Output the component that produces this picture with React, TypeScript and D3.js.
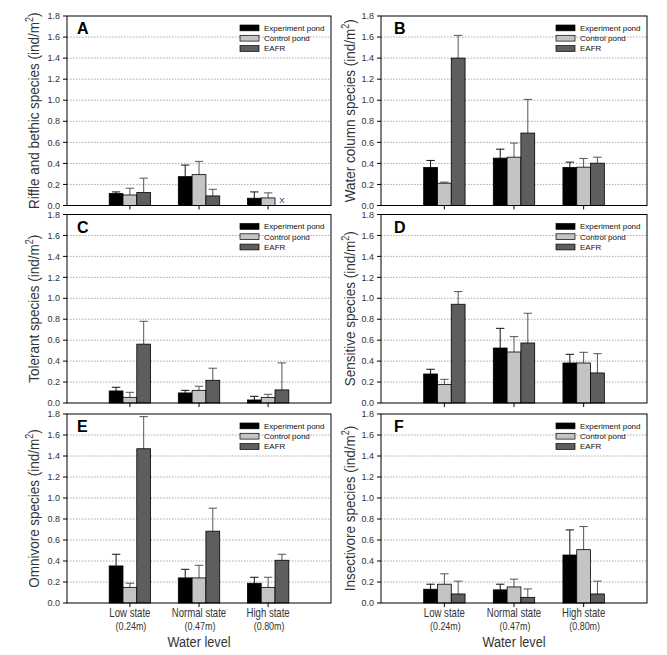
import React from "react";
import * as d3 from "d3";

const categories = ["Low state", "Normal state", "High state"];
const subLabels = ["(0.24m)", "(0.47m)", "(0.80m)"];
const seriesNames = ["Experiment pond", "Control pond", "EAFR"];
const yTicks = [0, 0.2, 0.4, 0.6, 0.8, 1.0, 1.2, 1.4, 1.6, 1.8];
const panelLetters = ["A", "B", "C", "D", "E", "F"];
const yTitles = [
  "Riffle and bethic species",
  "Water column species",
  "Tolerant species",
  "Sensitive species",
  "Omnivore species",
  "Insectivore species",
];

// means per panel: [experiment, control, EAFR] x [low, normal, high]
const meansA = [[0.113, 0.274, 0.069], [0.10, 0.293, 0.072], [0.123, 0.091, null]];
const errA = [[0.016, 0.11, 0.06], [0.064, 0.126, 0.048], [0.137, 0.063, null]];
const meansB = [[0.361, 0.45, 0.361], [0.212, 0.459, 0.364], [1.40, 0.688, 0.402]];
const errB = [[0.067, 0.085, 0.051], [0.01, 0.134, 0.083], [0.216, 0.32, 0.057]];
const meansC = [[0.115, 0.096, 0.029], [0.054, 0.121, 0.054], [0.562, 0.217, 0.125]];
const errC = [[0.035, 0.025, 0.035], [0.048, 0.039, 0.029], [0.218, 0.115, 0.258]];
const meansD = [[0.277, 0.525, 0.382], [0.178, 0.487, 0.382], [0.943, 0.573, 0.287]];
const errD = [[0.045, 0.188, 0.083], [0.048, 0.147, 0.102], [0.121, 0.284, 0.184]];
const meansE = [[0.353, 0.239, 0.188], [0.149, 0.239, 0.149], [1.469, 0.684, 0.407]];
const errE = [[0.111, 0.082, 0.057], [0.039, 0.12, 0.096], [0.306, 0.219, 0.057]];
const meansF = [[0.131, 0.125, 0.457], [0.179, 0.153, 0.508], [0.086, 0.054, 0.086]];
const errF = [[0.048, 0.054, 0.239], [0.099, 0.074, 0.22], [0.122, 0.08, 0.122]];

const allMeans = [meansA, meansB, meansC, meansD, meansE, meansF];
const allErr = [errA, errB, errC, errD, errE, errF];

const FONT = "'Liberation Sans', Arial, Helvetica, sans-serif";
const barFill = ["#000000", "#c4c4c4", "#5e5e5e"];
const errStroke = ["#111", "#555", "#555"];

const cols = [
  { left: 67, right: 331, titleOff: 28, letterOff: 10 },
  { left: 381, right: 647, titleOff: 26, letterOff: 13 },
];
const rows = [
  { top: 16, bottom: 205.5 },
  { top: 214.5, bottom: 403 },
  { top: 414, bottom: 603 },
];

function Panel({ idx }: { idx: number }) {
  const col = cols[idx % 2];
  const row = rows[Math.floor(idx / 2)];
  const { left, right } = col;
  const { top, bottom } = row;
  const y = d3.scaleLinear().domain([0, 1.8]).range([bottom, top]);
  const x = d3.scalePoint<string>().domain(categories).range([left, right]).padding(0.91);
  const groupW = 41.4;
  const inner = d3.scaleBand<number>().domain([0, 1, 2]).range([-groupW / 2, groupW / 2]).padding(0);
  const bw = inner.bandwidth();
  const means = allMeans[idx];
  const errs = allErr[idx];
  const isBottom = idx >= 4;
  const legX = right - 91;
  return (
    <g>
      {/* gridlines */}
      {yTicks.filter((t) => t > 0 && t < 1.8).map((t) => (
        <line key={t} x1={left} x2={right} y1={y(t)} y2={y(t)} stroke="#a8a8a8" strokeWidth={1} strokeDasharray="1.5,1.5" />
      ))}
      {/* bars */}
      {means.map((ser, s) =>
        ser.map((v, c) => {
          const cx = (x(categories[c]) as number) + (inner(s) as number);
          if (v === null) {
            return (
              <text key={`${s}-${c}`} x={cx + bw / 2} y={bottom - 3} fontSize={8} fontFamily={FONT} textAnchor="middle" fill="#222">X</text>
            );
          }
          const e = errs[s][c] as number;
          const mid = cx + bw / 2;
          return (
            <g key={`${s}-${c}`}>
              <line x1={mid} x2={mid} y1={y(v)} y2={y(v + e)} stroke={errStroke[s]} strokeWidth={1} />
              <line x1={mid - 4.2} x2={mid + 4.2} y1={y(v + e)} y2={y(v + e)} stroke={errStroke[s]} strokeWidth={1} />
              <rect x={cx} y={y(v)} width={bw} height={bottom - y(v)} fill={barFill[s]} stroke="#000" strokeWidth={0.8} />
            </g>
          );
        })
      )}
      {/* frame */}
      <rect x={left} y={top} width={right - left} height={bottom - top} fill="none" stroke="#000" strokeWidth={1} />
      {/* y ticks */}
      {yTicks.map((t) => (
        <g key={t}>
          <line x1={left - 4} x2={left} y1={y(t)} y2={y(t)} stroke="#000" strokeWidth={1} />
          <text x={left - 7} y={y(t) + 3.2} fontSize={9} fontFamily={FONT} textAnchor="end" fill="#333">{d3.format(".1f")(t)}</text>
        </g>
      ))}
      {/* x ticks */}
      {categories.map((c) => (
        <line key={c} x1={x(c)} x2={x(c)} y1={bottom} y2={bottom + 4} stroke="#000" strokeWidth={1} />
      ))}
      {/* x labels */}
      {isBottom && categories.map((c, i) => (
        <g key={c}>
          <g transform={`translate(${x(c)},${bottom + 14}) scale(0.8,1)`}>
            <text textAnchor="middle" fontSize={12} fontFamily={FONT} fill="#333">{c}</text>
          </g>
          <g transform={`translate(${(x(c) as number) + 1},${bottom + 26.5}) scale(0.78,1)`}>
            <text textAnchor="middle" fontSize={11.5} fontFamily={FONT} fill="#333">{subLabels[i]}</text>
          </g>
        </g>
      ))}
      {isBottom && (
        <g transform={`translate(${(left + right) / 2},${bottom + 44}) scale(0.82,1)`}>
          <text textAnchor="middle" fontSize={15.5} fontFamily={FONT} fill="#333">Water level</text>
        </g>
      )}
      {/* y title */}
      <g transform={`translate(${left - col.titleOff},${(top + bottom) / 2}) rotate(-90) scale(0.9,1)`}>
        <text textAnchor="middle" fontSize={15} fontFamily={FONT} fill="#333">
          <tspan>{yTitles[idx]} (ind/m</tspan>
          <tspan dy={-6} fontSize={10}>2</tspan>
          <tspan dy={6}>)</tspan>
        </text>
      </g>
      {/* panel letter */}
      <text x={left + col.letterOff} y={top + 18} fontSize={16} fontWeight="bold" fontFamily={FONT} fill="#000">{panelLetters[idx]}</text>
      {/* legend */}
      {seriesNames.map((n, s) => (
        <g key={n}>
          <rect x={legX} y={top + 9 + s * 10.3} width={19} height={5.8} fill={barFill[s]} stroke="#000" strokeWidth={0.7} />
          <text x={legX + 24} y={top + 14.8 + s * 10.3} fontSize={8} fontFamily={FONT} fill="#111">{n}</text>
        </g>
      ))}
    </g>
  );
}

export default function App() {
  return (
    <svg width={667} height={655} style={{ position: "absolute", left: 0, top: 0, background: "#fff" }}>
      <rect x={0} y={0} width={667} height={655} fill="#fff" />
      {[0, 1, 2, 3, 4, 5].map((i) => (
        <Panel key={i} idx={i} />
      ))}
    </svg>
  );
}
